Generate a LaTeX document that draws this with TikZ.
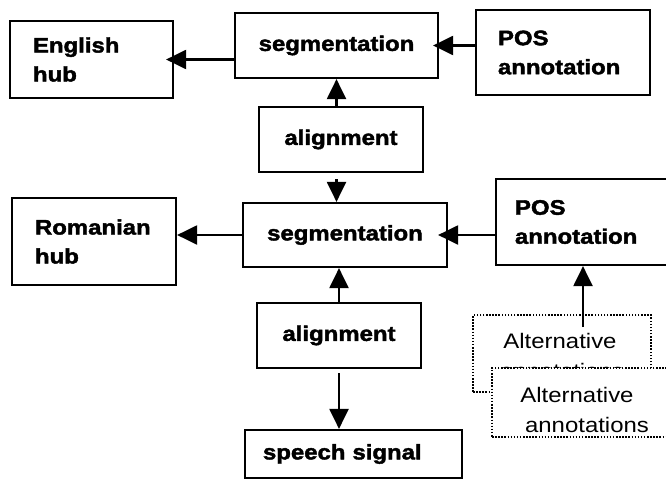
\documentclass[tikz,border=0pt]{standalone}
\usepackage{fontspec}
\setmainfont{Liberation Sans}[FakeStretch=1.14, BoldFeatures={FakeBold=2}]
\usetikzlibrary{arrows.meta}
\tikzset{
  bx/.style={draw, line width=2.2pt, inner sep=0pt, font=\bfseries\fontsize{21}{29}\selectfont},
  cbox/.style 2 args={bx, minimum width=#1, minimum height=#2},
  lbox/.style n args={3}{bx, minimum height=#2, text width=#1, inner xsep=#3, align=left},
  dotbox/.style={draw, line width=2.2pt, dash pattern=on 1.5pt off 1.6pt, inner sep=0pt},
  alttext/.style={anchor=base, inner sep=0pt, font=\fontsize{21}{26}\selectfont},
  arr/.style={line width=2.2pt, -{Triangle[length=20pt,width=19pt]}},
}
\begin{document}
\begin{tikzpicture}[x=1pt,y=-1pt]
\useasboundingbox (0,0) rectangle (666,479);
% boxes
\node[lbox={117pt}{77pt}{23pt}] (eng) at (91.5,59.5) {English\\hub};
\node[cbox={203pt}{65pt}] (seg1) at (336.5,45.5) {segmentation};
\node[lbox={130pt}{85pt}{22pt}] (pos1) at (563,52.5) {POS\\annotation};
\node[cbox={164pt}{65pt}] (align1) at (341,139.5) {alignment};
\node[lbox={118pt}{87pt}{23pt}] (rom) at (94,241.5) {Romanian\\hub};
\node[cbox={204pt}{64pt}] (seg2) at (345,235) {segmentation};
\node[lbox={146pt}{86pt}{19pt}] (pos2) at (588,222) {POS\\annotation};
\node[cbox={164pt}{65pt}] (align2) at (339,335.5) {alignment};
\node[lbox={181pt}{48pt}{18pt}] (speech) at (353.5,454) {speech signal};
% alternative annotations (back)
\node[dotbox, minimum width=178pt, minimum height=77pt] (alt1) at (562,353.5) {};
\node[alttext] (alt1a) at (560,348) {Alternative};
\node[alttext] (alt1b) at (562,378) {annotations};
\coordinate (altend) at (583,327);
% connectors
\draw[arr] (seg1.west |- eng.east) -- ([xshift=-8pt]eng.east);
\draw[arr] (pos1.west |- seg1.east) -- ([xshift=-6pt]seg1.east);
\draw[arr] (align1.north -| seg1.south) -- (seg1.south);
\draw[arr] ([yshift=-6pt]align1.south -| seg1.south) -- (seg2.north -| seg1.south);
\draw[arr] (seg2.west) -- (rom.east |- seg2.west);
\draw[arr] (pos2.west |- seg2.east) -- ([xshift=-10pt]seg2.east);
\draw[arr] (align2.north) -- (seg2.south -| align2.north);
\draw[arr] ([yshift=-4pt]align2.south) -- (speech.north -| align2.south);
\draw[arr] (altend) -- (altend |- pos2.south);
% alternative annotations (front)
\node[dotbox, fill=white, minimum width=180pt, minimum height=69pt] (alt2) at (582,402.5) {};
\node[alttext] (alt2a) at (577,402) {Alternative};
\node[alttext] (alt2b) at (587,432) {annotations};
\end{tikzpicture}
\end{document}
